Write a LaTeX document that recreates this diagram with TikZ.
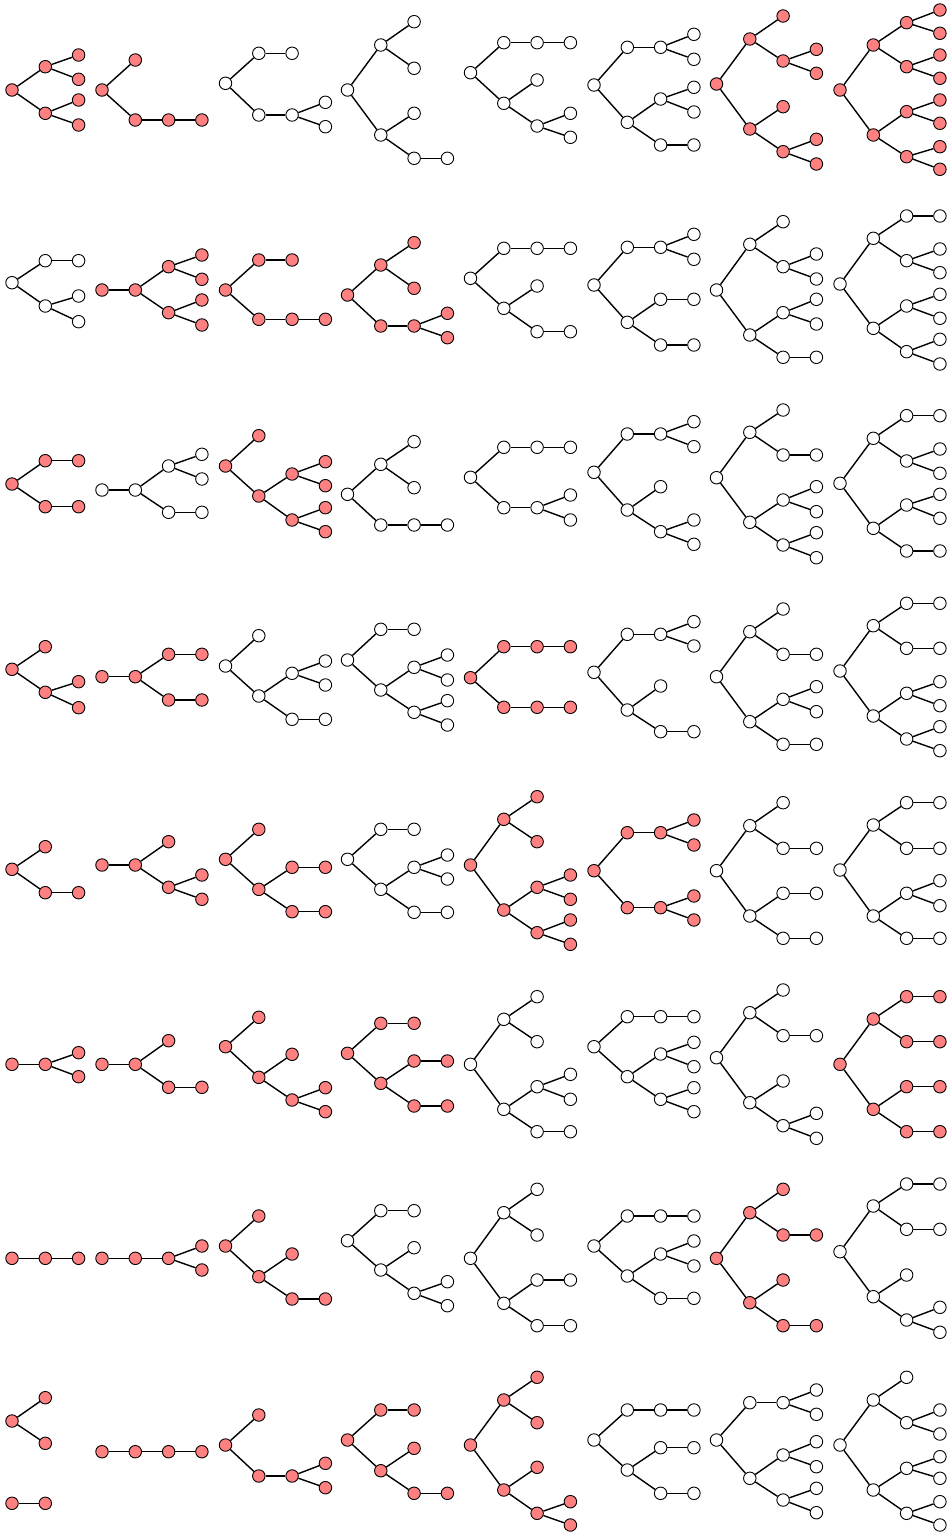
\documentclass[tikz,border=0pt]{standalone}
\definecolor{nred}{RGB}{255,128,128}
\tikzset{
  vtx/.style={circle,draw=black,line width=0.9pt,minimum size=12.5pt,inner sep=0pt},
  edge/.style={draw=black,line width=1.4pt}
}
\newcommand\tr[5]{%
  \foreach \nn/\lv/\yy in {#4} {\node[vtx,fill=#2] (#1\nn) at ({#3+33.3*\lv},\yy) {};}
  \foreach \pp/\qq in {#5} {\draw[edge] (#1\pp) -- (#1\qq);}
}
\begin{document}
\begin{tikzpicture}[x=1pt,y=-1pt]
\useasboundingbox (0,0) rectangle (951,1537);
% Row 1
\tr{Ra}{nred}{12}{a/0/90,b/1/66.7,c/1/113.3,d/2/55,e/2/79.3,f/2/100,g/2/125}{a/b,a/c,b/d,b/e,c/f,c/g}
\tr{Rb}{nred}{102}{a/0/90,b/1/60,c/1/120,d/2/120,e/3/120}{a/b,a/c,c/d,d/e}
\tr{Rc}{white}{225.5}{a/0/83.3,b/1/53.3,c/2/53.3,d/1/115,e/2/115,f/3/102.3,g/3/126.7}{a/b,b/c,a/d,d/e,e/f,e/g}
\tr{Rd}{white}{347.5}{a/0/90,b/1/45,c/2/21.7,d/2/68.3,e/1/135,f/2/113.3,g/2/158.3,h/3/158.3}{a/b,b/c,b/d,a/e,e/f,e/g,g/h}
\tr{Re}{white}{470.5}{a/0/72.7,b/1/42.7,c/2/42.7,d/3/42.7,e/1/103.3,f/2/80,g/2/126,h/3/113.3,i/3/137.3}{a/b,b/c,c/d,a/e,e/f,e/g,g/h,g/i}
\tr{Rf}{white}{594}{a/0/85,b/1/47.3,c/2/47.3,d/3/34.3,e/3/59.3,f/1/122.3,g/2/99,h/3/87.3,i/3/112,j/2/145,k/3/145}{a/b,b/c,c/d,c/e,a/f,f/g,g/h,g/i,f/j,j/k}
\tr{Rg}{nred}{716.5}{a/0/84,b/1/39,c/2/16,d/2/61,e/3/49.3,f/3/73.3,g/1/129,h/2/106.7,i/2/151.7,j/3/139.3,k/3/164}{a/b,b/c,b/d,d/e,d/f,a/g,g/h,g/i,i/j,i/k}
\tr{Rh}{nred}{840}{a/0/90,b/1/45,c/2/22.7,d/3/10,e/3/33.3,f/2/66.7,g/3/55,h/3/78.3,i/1/135,j/2/111.7,k/3/100,l/3/123.3,m/2/156.7,n/3/146.7,o/3/169.3}{a/b,b/c,c/d,c/e,b/f,f/g,f/h,a/i,i/j,j/k,j/l,i/m,m/n,m/o}
% Row 2
\tr{Sa}{white}{12}{a/0/282.7,b/1/260.7,c/2/260.7,d/1/306,e/2/296,f/2/321.7}{a/b,b/c,a/d,d/e,d/f}
\tr{Sb}{nred}{102}{a/0/290,b/1/290,c/2/266.7,d/3/255,e/3/279.3,f/2/312.7,g/3/300,h/3/325}{a/b,b/c,c/d,c/e,b/f,f/g,f/h}
\tr{Sc}{nred}{225.5}{a/0/290,b/1/260,c/2/260,d/1/319.3,e/2/319.3,f/3/319.3}{a/b,b/c,a/d,d/e,e/f}
\tr{Sd}{nred}{347.5}{a/0/295,b/1/265,c/2/242.7,d/2/288.3,e/1/326,f/2/326,g/3/313.3,h/3/337.7}{a/b,b/c,b/d,a/e,e/f,f/g,f/h}
\tr{Se}{white}{470.5}{a/0/278.3,b/1/248.3,c/2/248.3,d/3/248.3,e/1/308.3,f/2/286,g/2/331.7,h/3/331.7}{a/b,b/c,c/d,a/e,e/f,e/g,g/h}
\tr{Sf}{white}{594}{a/0/285,b/1/247.3,c/2/247.3,d/3/234.3,e/3/259.3,f/1/322.3,g/2/299.3,h/3/299.3,i/2/345,j/3/345}{a/b,b/c,c/d,c/e,a/f,f/g,g/h,f/i,i/j}
\tr{Sg}{white}{716.5}{a/0/290,b/1/244.3,c/2/221.7,d/2/266.7,e/3/254,f/3/279,g/1/335,h/2/312.7,i/3/299.3,j/3/324,k/2/357.3,l/3/357.3}{a/b,b/c,b/d,d/e,d/f,a/g,g/h,h/i,h/j,g/k,k/l}
\tr{Sh}{white}{840}{a/0/284,b/1/238.3,c/2/216,d/3/216,e/2/260.7,f/3/249,g/3/272.7,h/1/328.3,i/2/306,j/3/294.3,k/3/318.3,l/2/351.7,m/3/339.3,n/3/364}{a/b,b/c,c/d,b/e,e/f,e/g,a/h,h/i,i/j,i/k,h/l,l/m,l/n}
% Row 3
\tr{Ta}{nred}{12}{a/0/484,b/1/460.7,c/2/460.7,d/1/506.7,e/2/506.7}{a/b,b/c,a/d,d/e}
\tr{Tb}{white}{102}{a/0/490,b/1/490,c/2/466,d/3/454.3,e/3/479,f/2/512.3,g/3/512.3}{a/b,b/c,c/d,c/e,b/f,f/g}
\tr{Tc}{nred}{225.5}{a/0/466,b/1/435.7,c/1/496,d/2/474,e/3/461.7,f/3/485.7,g/2/520,h/3/507.7,i/3/531.7}{a/b,a/c,c/d,d/e,d/f,c/g,g/h,g/i}
\tr{Td}{white}{347.5}{a/0/494.3,b/1/464.3,c/2/441.7,d/2/487.7,e/1/525,f/2/525,g/3/525}{a/b,b/c,b/d,a/e,e/f,f/g}
\tr{Te}{white}{470.5}{a/0/477.3,b/1/447.3,c/2/447.3,d/3/447.3,e/1/507.7,f/2/507.7,g/3/495,h/3/520}{a/b,b/c,c/d,a/e,e/f,f/g,f/h}
\tr{Tf}{white}{594}{a/0/472.3,b/1/434,c/2/434,d/3/421.7,e/3/446.7,f/1/510,g/2/486.7,h/2/531.7,i/3/520,j/3/544.3}{a/b,b/c,c/d,c/e,a/f,f/g,f/h,h/i,h/j}
\tr{Tg}{white}{716.5}{a/0/477.7,b/1/432.3,c/2/410,d/2/455,e/3/455,f/1/522.3,g/2/500,h/3/486.7,i/3/511.7,j/2/545,k/3/532.7,l/3/557.7}{a/b,b/c,b/d,d/e,a/f,f/g,g/h,g/i,f/j,j/k,j/l}
\tr{Th}{white}{840}{a/0/483.3,b/1/438.3,c/2/415.7,d/3/415.7,e/2/461,f/3/449,g/3/473.3,h/1/528.3,i/2/505,j/3/494.3,k/3/518.3,l/2/551,m/3/551}{a/b,b/c,c/d,b/e,e/f,e/g,a/h,h/i,i/j,i/k,h/l,l/m}
% Row 4
\tr{Ua}{nred}{12}{a/0/669.3,b/1/646.7,c/1/692.3,d/2/681.7,e/2/707.7}{a/b,a/c,c/d,c/e}
\tr{Ub}{nred}{102}{a/0/676.7,b/1/676.7,c/2/654.3,d/3/654.3,e/2/700,f/3/700}{a/b,b/c,c/d,b/e,e/f}
\tr{Uc}{white}{225.5}{a/0/666,b/1/635.7,c/1/696,d/2/673.3,e/3/661,f/3/685,g/2/719.3,h/3/719.3}{a/b,a/c,c/d,d/e,d/f,c/g,g/h}
\tr{Ud}{white}{347.5}{a/0/660,b/1/629.3,c/2/629.3,d/1/690,e/2/667.3,f/3/655,g/3/680,h/2/712.3,i/3/700.7,j/3/725}{a/b,b/c,a/d,d/e,e/f,e/g,d/h,h/i,h/j}
\tr{Ue}{nred}{470.5}{a/0/677.7,b/1/646.7,c/2/646.7,d/3/646.7,e/1/707.3,f/2/707.3,g/3/707.3}{a/b,b/c,c/d,a/e,e/f,f/g}
\tr{Uf}{white}{594}{a/0/672.3,b/1/634.3,c/2/634.3,d/3/621.7,e/3/646,f/1/710,g/2/686,h/2/731.7,i/3/731.7}{a/b,b/c,c/d,c/e,a/f,f/g,f/h,h/i}
\tr{Ug}{white}{716.5}{a/0/676.7,b/1/631.7,c/2/609,d/2/654.3,e/3/654.3,f/1/721.7,g/2/699.3,h/3/686.7,i/3/711.7,j/2/744.3,k/3/744.3}{a/b,b/c,b/d,d/e,a/f,f/g,g/h,g/i,f/j,j/k}
\tr{Uh}{white}{840}{a/0/671,b/1/625.7,c/2/603.3,d/3/603.3,e/2/648.3,f/3/648.3,g/1/716,h/2/693.3,i/3/681.7,j/3/705.7,k/2/739,l/3/726.7,m/3/750.7}{a/b,b/c,c/d,b/e,e/f,a/g,g/h,h/i,h/j,g/k,k/l,k/m}
% Row 5
\tr{Va}{nred}{12}{a/0/869.3,b/1/846.7,c/1/892.7,d/2/892.7}{a/b,a/c,c/d}
\tr{Vb}{nred}{102}{a/0/865,b/1/865,c/2/841.7,d/2/887.3,e/3/875,f/3/899.3}{a/b,b/c,b/d,d/e,d/f}
\tr{Vc}{nred}{225.5}{a/0/859.3,b/1/829.3,c/1/889.3,d/2/867.3,e/3/867.3,f/2/911.7,g/3/911.7}{a/b,a/c,c/d,d/e,c/f,f/g}
\tr{Vd}{white}{347.5}{a/0/859.3,b/1/829.3,c/2/829.3,d/1/889.3,e/2/867.3,f/3/855,g/3/879,h/2/912.3,i/3/912.3}{a/b,b/c,a/d,d/e,e/f,e/g,d/h,h/i}
\tr{Ve}{nred}{470.5}{a/0/865,b/1/819.3,c/2/796.7,d/2/841.7,e/1/910,f/2/887.3,g/3/875,h/3/899.3,i/2/932.7,j/3/920,k/3/944.3}{a/b,b/c,b/d,a/e,e/f,f/g,f/h,e/i,i/j,i/k}
\tr{Vf}{nred}{594}{a/0/870.7,b/1/832.7,c/2/832.7,d/3/820,e/3/845,f/1/907.7,g/2/907.7,h/3/896,i/3/920}{a/b,b/c,c/d,c/e,a/f,f/g,g/h,g/i}
\tr{Vg}{white}{716.5}{a/0/870.7,b/1/825.7,c/2/802.7,d/2/848.3,e/3/848.3,f/1/916,g/2/893.3,h/3/893.3,i/2/938.3,j/3/938.3}{a/b,b/c,b/d,d/e,a/f,f/g,g/h,f/i,i/j}
\tr{Vh}{white}{840}{a/0/870,b/1/825,c/2/802.7,d/3/802.7,e/2/848.3,f/3/848.3,g/1/916,h/2/893.3,i/3/880.7,j/3/905.7,k/2/938.3,l/3/938.3}{a/b,b/c,c/d,b/e,e/f,a/g,g/h,h/i,h/j,g/k,k/l}
% Row 6
\tr{Wa}{nred}{12}{a/0/1064.3,b/1/1064.3,c/2/1052.7,d/2/1076.7}{a/b,b/c,b/d}
\tr{Wb}{nred}{102}{a/0/1064.3,b/1/1064.3,c/2/1040.7,d/2/1087.3,e/3/1087.3}{a/b,b/c,b/d,d/e}
\tr{Wc}{nred}{225.5}{a/0/1046.7,b/1/1017.3,c/1/1077.3,d/2/1054.3,e/2/1100,f/3/1087.7,g/3/1111.7}{a/b,a/c,c/d,c/e,e/f,e/g}
\tr{Wd}{nred}{347.5}{a/0/1053.3,b/1/1023.3,c/2/1023.3,d/1/1083.3,e/2/1061,f/3/1061,g/2/1106,h/3/1106}{a/b,b/c,a/d,d/e,e/f,d/g,g/h}
\tr{We}{white}{470.5}{a/0/1064.3,b/1/1019.3,c/2/996.7,d/2/1041.7,e/1/1109.3,f/2/1086.7,g/3/1074.3,h/3/1099.3,i/2/1131.7,j/3/1131.7}{a/b,b/c,b/d,a/e,e/f,f/g,f/h,e/i,i/j}
\tr{Wf}{white}{594}{a/0/1046.7,b/1/1016.7,c/2/1016.7,d/3/1016.7,e/1/1076.7,f/2/1054,g/3/1042.3,h/3/1066.7,i/2/1099.3,j/3/1087.7,k/3/1111.7}{a/b,b/c,c/d,a/e,e/f,f/g,f/h,e/i,i/j,i/k}
\tr{Wg}{white}{716.5}{a/0/1057.7,b/1/1012.7,c/2/990,d/2/1035.7,e/3/1035.7,f/1/1102.7,g/2/1081,h/2/1125.7,i/3/1113.3,j/3/1138.3}{a/b,b/c,b/d,d/e,a/f,f/g,f/h,h/i,h/j}
\tr{Wh}{nred}{840}{a/0/1064.3,b/1/1019,c/2/996.7,d/3/996.7,e/2/1041.7,f/3/1041.7,g/1/1109.3,h/2/1086.7,i/3/1086.7,j/2/1131.7,k/3/1131.7}{a/b,b/c,c/d,b/e,e/f,a/g,g/h,h/i,g/j,j/k}
% Row 7
\tr{Xa}{nred}{12}{a/0/1258.3,b/1/1258.3,c/2/1258.3}{a/b,b/c}
\tr{Xb}{nred}{102}{a/0/1258.3,b/1/1258.3,c/2/1258.3,d/3/1246,e/3/1270}{a/b,b/c,c/d,c/e}
\tr{Xc}{nred}{225.5}{a/0/1246,b/1/1216,c/1/1276.7,d/2/1254,e/2/1299,f/3/1299}{a/b,a/c,c/d,c/e,e/f}
\tr{Xd}{white}{347.5}{a/0/1240.7,b/1/1210.7,c/2/1210.7,d/1/1270,e/2/1247.7,f/2/1293.3,g/3/1281.7,h/3/1305.7}{a/b,b/c,a/d,d/e,d/f,f/g,f/h}
\tr{Xe}{white}{470.5}{a/0/1258.3,b/1/1212.7,c/2/1189.3,d/2/1235,e/1/1303.3,f/2/1280,g/3/1280,h/2/1325.7,i/3/1325.7}{a/b,b/c,b/d,a/e,e/f,f/g,e/h,h/i}
\tr{Xf}{white}{594}{a/0/1246,b/1/1216,c/2/1216,d/3/1216,e/1/1276,f/2/1254,g/3/1241,h/3/1266,i/2/1298.3,j/3/1298.3}{a/b,b/c,c/d,a/e,e/f,f/g,f/h,e/i,i/j}
\tr{Xg}{nred}{716.5}{a/0/1258.3,b/1/1212.7,c/2/1189.3,d/2/1235,e/3/1235,f/1/1302.7,g/2/1280,h/2/1325.7,i/3/1325.7}{a/b,b/c,b/d,d/e,a/f,f/g,f/h,h/i}
\tr{Xh}{white}{840}{a/0/1251.7,b/1/1206,c/2/1184,d/3/1184,e/2/1229.3,f/3/1229.3,g/1/1296.7,h/2/1275,i/2/1320,j/3/1307.3,k/3/1332.3}{a/b,b/c,c/d,b/e,e/f,a/g,g/h,g/i,i/j,i/k}
% Row 8
\tr{Ya}{nred}{12}{a/0/1421,b/1/1397.7,c/1/1443.3,d/0/1503.3,e/1/1503.3}{a/b,a/c,d/e}
\tr{Yb}{nred}{102}{a/0/1451.7,b/1/1451.7,c/2/1451.7,d/3/1451.7}{a/b,b/c,c/d}
\tr{Yc}{nred}{225.5}{a/0/1445,b/1/1415,c/1/1476,d/2/1476,e/3/1463.3,f/3/1487.7}{a/b,a/c,c/d,d/e,d/f}
\tr{Yd}{nred}{347.5}{a/0/1440,b/1/1410,c/2/1410,d/1/1470.7,e/2/1448.3,f/2/1493.3,g/3/1493.3}{a/b,b/c,a/d,d/e,d/f,f/g}
\tr{Ye}{nred}{470.5}{a/0/1445,b/1/1400,c/2/1377.3,d/2/1422.7,e/1/1490,f/2/1467.3,g/2/1513.3,h/3/1501.7,i/3/1525}{a/b,b/c,b/d,a/e,e/f,e/g,g/h,g/i}
\tr{Yf}{white}{594}{a/0/1440,b/1/1410,c/2/1410,d/3/1410,e/1/1470,f/2/1447.7,g/3/1447.7,h/2/1493.3,i/3/1493.3}{a/b,b/c,c/d,a/e,e/f,f/g,e/h,h/i}
\tr{Yg}{white}{716.5}{a/0/1440,b/1/1402.7,c/2/1402.7,d/3/1390,e/3/1414.3,f/1/1478.3,g/2/1455,h/3/1441.7,i/3/1466.7,j/2/1500,k/3/1488.3,l/3/1512.7}{a/b,b/c,c/d,c/e,a/f,f/g,g/h,g/i,f/j,j/k,j/l}
\tr{Yh}{white}{840}{a/0/1445,b/1/1400,c/2/1377.3,d/2/1422.7,e/3/1410,f/3/1434,g/1/1490,h/2/1468.3,i/3/1456.7,j/3/1478.3,k/2/1513.3,l/3/1501.7,m/3/1525}{a/b,b/c,b/d,d/e,d/f,a/g,g/h,h/i,h/j,g/k,k/l,k/m}
\end{tikzpicture}
\end{document}
